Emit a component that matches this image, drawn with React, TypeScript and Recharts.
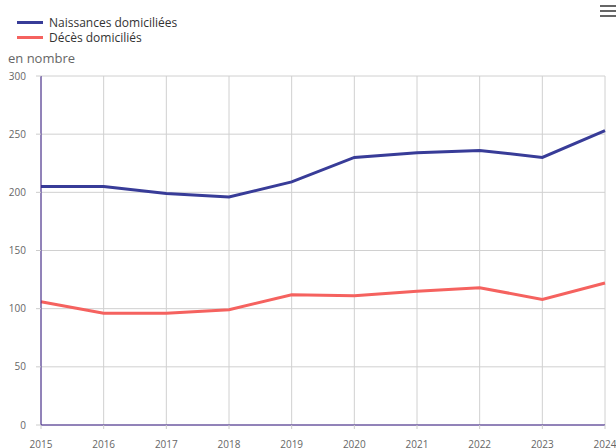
import { CartesianGrid, Line, LineChart, XAxis, YAxis } from "recharts";

const years = ["2015", "2016", "2017", "2018", "2019", "2020", "2021", "2022", "2023", "2024"];
const naissances = [205, 205, 199, 196, 209, 230, 234, 236, 230, 253];
const deces = [106, 96, 96, 99, 112, 111, 115, 118, 108, 122];
const yTicks = [0, 50, 100, 150, 200, 250, 300];

const BLUE = "#383c98";
const RED = "#f5625f";
const FONT = "'Open Sans', 'Noto Sans', sans-serif";

const data = years.map((year, i) => ({
  year,
  naissances: naissances[i],
  deces: deces[i],
}));

const legendItems = [
  { label: "Naissances domiciliées", color: BLUE },
  { label: "Décès domiciliés", color: RED },
];

function ChartLegend() {
  return (
    <div
      style={{
        position: "absolute",
        left: 17,
        top: 15,
        fontFamily: FONT,
        fontSize: 12,
        lineHeight: "15px",
        color: "#333",
      }}
    >
      {legendItems.map((item) => (
        <div key={item.label} style={{ display: "flex", alignItems: "center", height: 15 }}>
          <span
            style={{
              display: "inline-block",
              width: 26,
              height: 3,
              background: item.color,
              marginRight: 6,
            }}
          />
          {item.label}
        </div>
      ))}
    </div>
  );
}

export default function App() {
  return (
    <div style={{ position: "absolute", left: 0, top: 0, width: 616, height: 448, overflow: "hidden", background: "#fff" }}>
      <div style={{ position: "absolute", left: 0, top: 0 }}>
        <LineChart
          width={616}
          height={460}
          data={data}
          margin={{ top: 76, right: 11, bottom: 5, left: 6 }}
        >
          <CartesianGrid stroke="#d0d0d0" />
          <XAxis
            dataKey="year"
            stroke="#3c1f8a"
            tick={{ fill: "#666", fontSize: 10, fontFamily: FONT }}
            tickLine={{ stroke: "#ccc" }}
            tickSize={4}
            tickMargin={12}
            height={30}
          />
          <YAxis
            domain={[0, 300]}
            ticks={yTicks}
            stroke="#3c1f8a"
            tick={{ fill: "#666", fontSize: 10, fontFamily: FONT }}
            tickLine={{ stroke: "#ccc" }}
            tickSize={5}
            tickMargin={10}
            width={35}
          />
          <Line
            dataKey="naissances"
            stroke={BLUE}
            strokeWidth={3}
            dot={false}
            isAnimationActive={false}
          />
          <Line
            dataKey="deces"
            stroke={RED}
            strokeWidth={3}
            dot={false}
            isAnimationActive={false}
          />
        </LineChart>
      </div>
      <ChartLegend />
      <div
        style={{
          position: "absolute",
          left: 8,
          top: 49,
          fontFamily: FONT,
          fontSize: 13,
          color: "#666",
        }}
      >
        en nombre
      </div>
      <div style={{ position: "absolute", right: 0, top: 5, width: 16 }}>
        {[0, 1, 2].map((i) => (
          <div key={i} style={{ height: 2, background: "#666", marginBottom: 3 }} />
        ))}
      </div>
    </div>
  );
}
